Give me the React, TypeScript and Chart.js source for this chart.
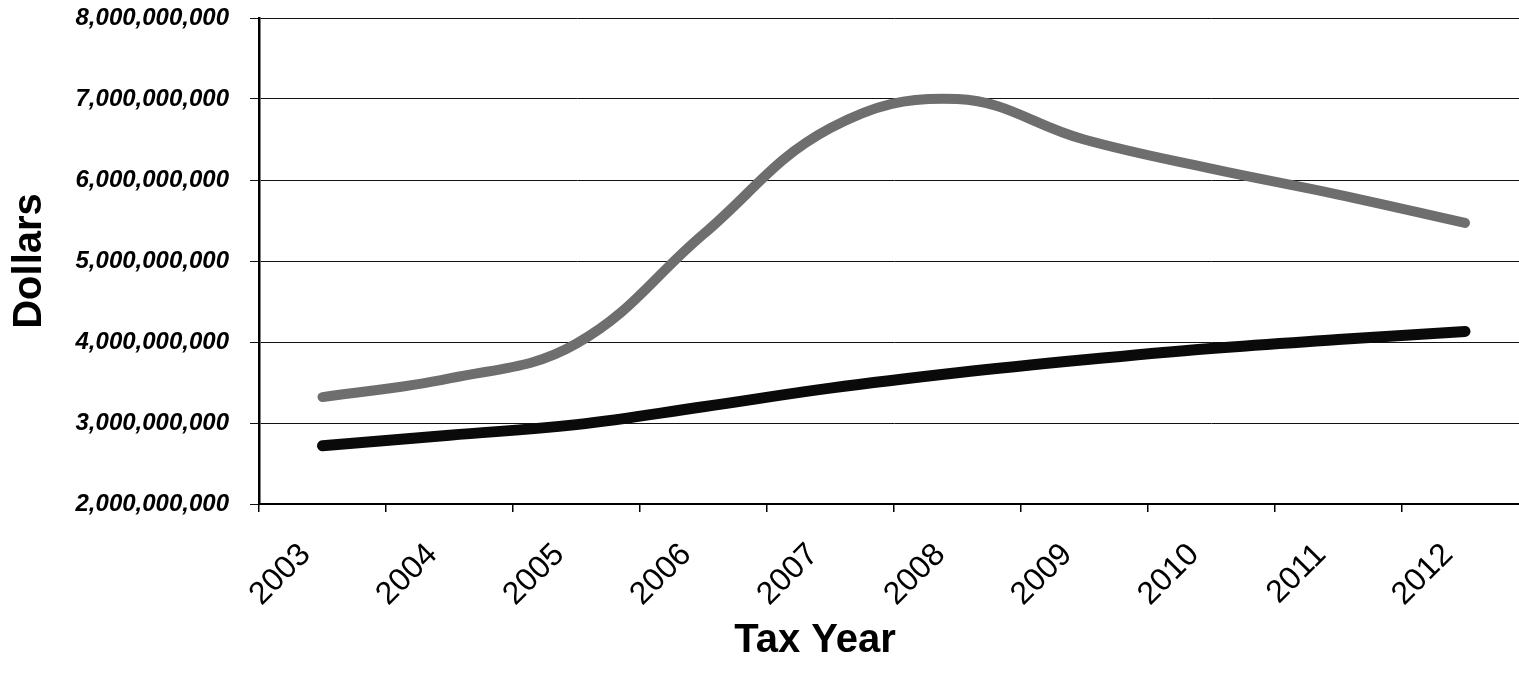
import React, { useEffect, useRef } from "react";
import { Chart, registerables } from "chart.js";

Chart.register(...registerables);

const taxYears = ["2003", "2004", "2005", "2006", "2007", "2008", "2009", "2010", "2011", "2012"];
const upperSeries = [3.32e9, 3.55e9, 3.98e9, 5.33e9, 6.64e9, 7.0e9, 6.5e9, 6.14e9, 5.82e9, 5.47e9];
const lowerSeries = [2.72e9, 2.85e9, 2.98e9, 3.2e9, 3.43e9, 3.62e9, 3.78e9, 3.92e9, 4.03e9, 4.13e9];
const yAxisMin = 2e9;
const yAxisMax = 8e9;
const yAxisStep = 1e9;
const yTitle = "Dollars";
const xTitle = "Tax Year";

const FONT = "'Liberation Sans', Arial, sans-serif";

const xTitlePlugin = {
  id: "xTitlePlugin",
  afterDraw(chart: any) {
    const { ctx, chartArea } = chart;
    ctx.save();
    ctx.font = `bold 40px ${FONT}`;
    ctx.fillStyle = "#000";
    ctx.textAlign = "center";
    ctx.textBaseline = "middle";
    const x = chartArea.left + (chartArea.right - chartArea.left) * 0.438;
    ctx.fillText(xTitle, x, chartArea.bottom + 137);
    ctx.restore();
  },
};

export default function App() {
  const canvasRef = useRef<HTMLCanvasElement | null>(null);

  useEffect(() => {
    if (!canvasRef.current) return;
    const chart = new Chart(canvasRef.current, {
      type: "line",
      data: {
        labels: taxYears,
        datasets: [
          {
            label: "Upper",
            data: upperSeries,
            borderColor: "#6e6e6e",
            borderWidth: 10,
            borderCapStyle: "round",
            borderJoinStyle: "round",
            pointRadius: 0,
            tension: 0.4,
            fill: false,
          },
          {
            label: "Lower",
            data: lowerSeries,
            borderColor: "#0a0a0a",
            borderWidth: 11,
            borderCapStyle: "round",
            borderJoinStyle: "round",
            pointRadius: 0,
            tension: 0.4,
            fill: false,
          },
        ],
      },
      options: {
        animation: false,
        responsive: true,
        maintainAspectRatio: false,
        layout: { padding: { top: 0, right: 1.5, bottom: 0, left: 0 } },
        plugins: {
          legend: { display: false },
          tooltip: { enabled: false },
        },
        scales: {
          x: {
            type: "category",
            offset: true,
            grid: {
              offset: true,
              drawOnChartArea: false,
              drawTicks: true,
              tickLength: 8,
              color: "#000",
              lineWidth: 1.5,
            },
            border: { display: true, color: "#000", width: 2 },
            ticks: {
              color: "#000",
              font: { family: FONT, size: 32 },
              minRotation: 45,
              maxRotation: 45,
              padding: 24,
              labelOffset: -17,
              autoSkip: false,
            },
            afterFit: (scale: any) => {
              scale.height = 173;
            },
          },
          y: {
            min: yAxisMin,
            max: yAxisMax,
            grid: {
              color: "#111",
              lineWidth: 1,
              tickLength: 9,
            },
            border: { display: true, color: "#000", width: 2.5 },
            ticks: {
              stepSize: yAxisStep,
              color: "#000",
              font: { family: FONT, size: 24, style: "italic", weight: "bold" },
              padding: 21,
              callback: (v: any) => Number(v).toLocaleString("en-US"),
            },
            title: {
              display: true,
              text: yTitle,
              color: "#000",
              font: { family: FONT, size: 40, weight: "bold" },
              padding: { top: 6, bottom: 0 },
            },
            afterFit: (scale: any) => {
              scale.width = 259;
              scale.paddingTop = 18;
              scale.paddingBottom = 0;
            },
          },
        },
      },
      plugins: [xTitlePlugin],
    } as any);
    return () => chart.destroy();
  }, []);

  return (
    <div
      style={{
        position: "absolute",
        left: 0,
        top: 0,
        width: 1519,
        height: 677,
        overflow: "hidden",
        background: "#fff",
      }}
    >
      <div style={{ position: "relative", width: 1530, height: 677 }}>
        <canvas ref={canvasRef} />
      </div>
    </div>
  );
}
